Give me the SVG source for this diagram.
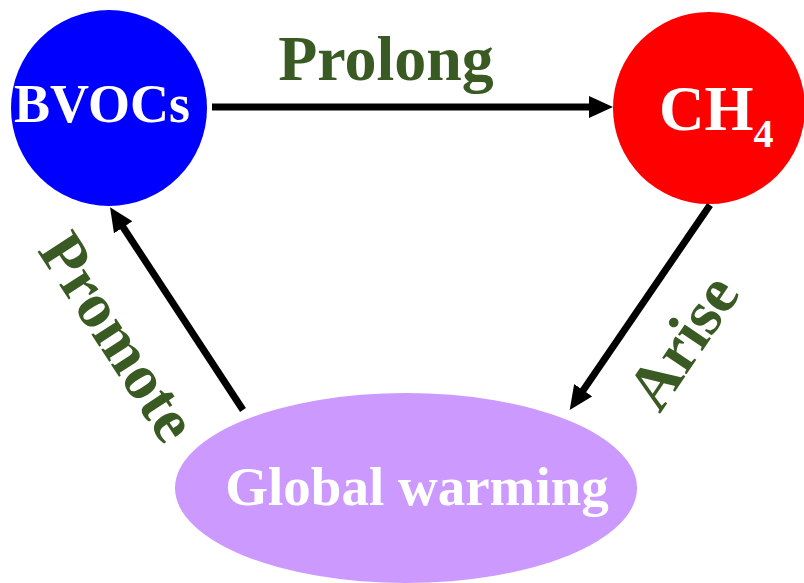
<svg xmlns="http://www.w3.org/2000/svg" width="804" height="583" viewBox="0 0 804 583">
<defs>
<style>
.lbl{font-family:"Liberation Serif","Times New Roman",serif;font-weight:bold;fill:#3a5a23;font-size:64px;text-anchor:middle}
.nt{font-family:"Liberation Serif","Times New Roman",serif;font-weight:bold;fill:#ffffff;text-anchor:middle}
.arr{stroke:#000;stroke-width:7;fill:none;marker-end:url(#ah)}
</style>
<marker id="ah" markerUnits="userSpaceOnUse" viewBox="0 0 24 22" refX="4" refY="11" markerWidth="24" markerHeight="22" orient="auto">
<path d="M0,0 L24,11 L0,22 z" fill="#000"/>
</marker>
</defs>
<rect width="804" height="583" fill="#fff"/>
<g id="connectors">
<line class="arr" x1="212" y1="107" x2="593" y2="107"/>
<line class="arr" x1="243" y1="410" x2="121" y2="224"/>
<line class="arr" x1="710" y1="205" x2="581" y2="393.5"/>
</g>
<g id="bvocs">
<circle cx="109" cy="108" r="98" fill="#0000ff"/>
<text class="nt" x="102" y="122" font-size="54">BVOCs</text>
</g>
<g id="ch4">
<circle cx="709" cy="108" r="96" fill="#ff0000"/>
<text class="nt" x="706" y="130" font-size="63" text-anchor="start" style="text-anchor:start" transform="translate(-47,0)">CH<tspan font-size="40" dy="17">4</tspan></text>
</g>
<g id="global-warming">
<ellipse cx="406" cy="488" rx="231" ry="95" fill="#cc99ff"/>
<text class="nt" x="417" y="505" font-size="55">Global warming</text>
</g>
<g id="labels">
<text class="lbl" x="386" y="80">Prolong</text>
<text class="lbl" transform="translate(118,337) rotate(57)" x="0" y="21">Promote</text>
<text class="lbl" transform="translate(683,342) rotate(-56)" x="0" y="21">Arise</text>
</g>
</svg>
